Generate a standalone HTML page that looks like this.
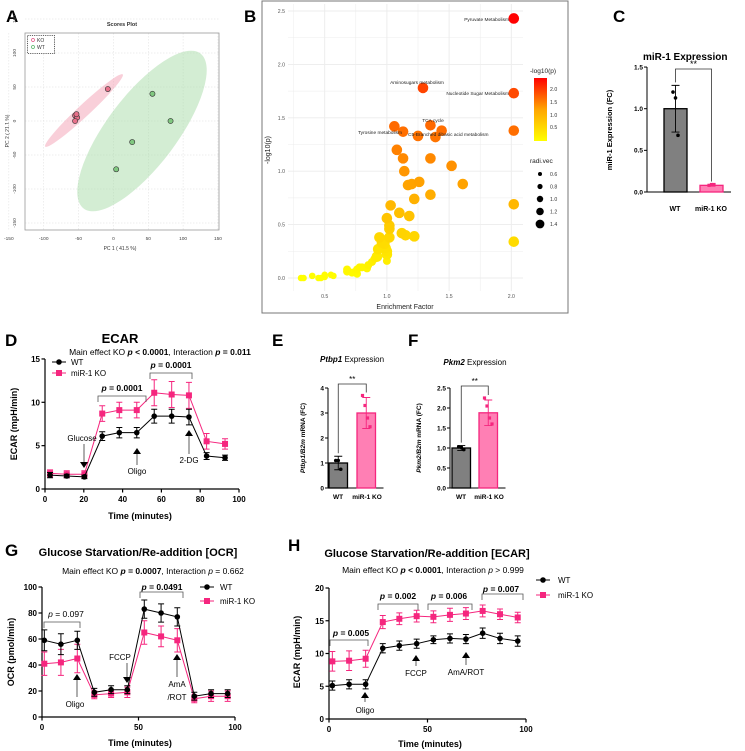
<!DOCTYPE html>
<html><head><meta charset="utf-8"><style>
body{margin:0;background:#fff}
svg{display:block;font-family:"Liberation Sans",sans-serif}
.b{font-weight:bold}
</style></head><body>
<svg id="fig" width="745" height="751" viewBox="0 0 745 751" xmlns="http://www.w3.org/2000/svg">
<rect x="0" y="0" width="745" height="751" fill="#fff"/>
<text x="6" y="22" font-size="17" class="b">A</text>
<text x="244" y="22" font-size="17" class="b">B</text>
<text x="613" y="22" font-size="17" class="b">C</text>
<text x="5" y="346" font-size="17" class="b">D</text>
<text x="272" y="346" font-size="17" class="b">E</text>
<text x="408" y="346" font-size="17" class="b">F</text>
<text x="5" y="556" font-size="17" class="b">G</text>
<text x="288" y="551" font-size="17" class="b">H</text>

<text x="122" y="26" font-size="5.5" class="b" text-anchor="middle" fill="#333">Scores Plot</text>
<text x="120" y="250" font-size="5" text-anchor="middle" fill="#333">PC 1 ( 41.5 %)</text>
<text transform="translate(9,131) rotate(-90)" font-size="5" text-anchor="middle" fill="#333">PC 2 ( 21.1 %)</text>
<g id="pA"></g>
<rect x="27.5" y="35.5" width="27" height="18" fill="#fff" stroke="#333" stroke-width="0.8" stroke-dasharray="1.2,1"/>
<circle cx="33" cy="40" r="1.5" fill="none" stroke="#e05080" stroke-width="0.7"/>
<text x="37" y="41.8" font-size="5" fill="#333">KO</text>
<circle cx="33" cy="47" r="1.5" fill="none" stroke="#50b060" stroke-width="0.7"/>
<text x="37" y="48.8" font-size="5" fill="#333">WT</text>

<rect x="262" y="1" width="306" height="312" fill="#fff" stroke="#777" stroke-width="1"/>
<g id="pB"></g>
<text x="405" y="309" font-size="7" text-anchor="middle" fill="#222">Enrichment Factor</text>
<text transform="translate(270,150) rotate(-90)" font-size="7" text-anchor="middle" fill="#222">-log10(p)</text>
<text x="530" y="73" font-size="6.5" fill="#222">-log10(p)</text>
<defs><linearGradient id="cg" x1="0" y1="1" x2="0" y2="0"><stop offset="0" stop-color="#ffff00"/><stop offset="0.5" stop-color="#ffa500"/><stop offset="1" stop-color="#ff0000"/></linearGradient></defs>
<rect x="534" y="78" width="13" height="63" fill="url(#cg)"/>
<text x="550" y="91" font-size="5.2" fill="#333">2.0</text>
<text x="550" y="104" font-size="5.2" fill="#333">1.5</text>
<text x="550" y="117" font-size="5.2" fill="#333">1.0</text>
<text x="550" y="129" font-size="5.2" fill="#333">0.5</text>
<text x="530" y="163" font-size="6.5" fill="#222">radi.vec</text>
<circle cx="540" cy="174" r="2" fill="#000"/>
<circle cx="540" cy="186.5" r="2.6" fill="#000"/>
<circle cx="540" cy="199" r="3.2" fill="#000"/>
<circle cx="540" cy="211.5" r="3.8" fill="#000"/>
<circle cx="540" cy="224" r="4.4" fill="#000"/>
<text x="550" y="176" font-size="5.2" fill="#333">0.6</text>
<text x="550" y="188.5" font-size="5.2" fill="#333">0.8</text>
<text x="550" y="201" font-size="5.2" fill="#333">1.0</text>
<text x="550" y="213.5" font-size="5.2" fill="#333">1.2</text>
<text x="550" y="226" font-size="5.2" fill="#333">1.4</text>
<g font-size="4.8" fill="#222">
<text x="509" y="21" text-anchor="end">Pyruvate Metabolism</text>
<text x="417" y="84" text-anchor="middle">Aminosugars metabolism</text>
<text x="509" y="95" text-anchor="end">Nucleotide Sugar Metabolism</text>
<text x="433" y="122" text-anchor="middle">TCA cycle</text>
<text x="402" y="134" text-anchor="end">Tyrosine metabolism</text>
<text x="408" y="136">C5-Branched dibasic acid metabolism</text>
</g>

<text x="643" y="60" font-size="10" class="b">miR-1 Expression</text>
<text transform="translate(612,130) rotate(-90)" font-size="7.5" class="b" text-anchor="middle">miR-1 Expression (FC)</text>
<text x="675" y="211" font-size="7" class="b" text-anchor="middle">WT</text>
<text x="711" y="211" font-size="7" class="b" text-anchor="middle">miR-1 KO</text>
<g id="pC"></g>

<text x="120" y="343" font-size="13" class="b" text-anchor="middle">ECAR</text>
<text x="160" y="355" font-size="8.5" text-anchor="middle">Main effect KO <tspan font-weight="bold" font-style="italic">p</tspan><tspan font-weight="bold"> &lt; 0.0001</tspan>, Interaction <tspan font-weight="bold" font-style="italic">p</tspan><tspan font-weight="bold"> = 0.011</tspan></text>
<text transform="translate(17,424) rotate(-90)" font-size="9" class="b" text-anchor="middle">ECAR (mpH/min)</text>
<text x="140" y="519" font-size="9" class="b" text-anchor="middle">Time (minutes)</text>
<g id="pD"></g>

<text x="352" y="362" font-size="8" text-anchor="middle"><tspan font-style="italic" font-weight="bold">Ptbp1</tspan> Expression</text>
<text transform="translate(305,438) rotate(-90)" font-size="6.5" font-style="italic" class="b" text-anchor="middle">Ptbp1/B2m <tspan font-style="normal">mRNA (FC)</tspan></text>
<text x="338" y="499" font-size="6.5" class="b" text-anchor="middle">WT</text>
<text x="367" y="499" font-size="6.5" class="b" text-anchor="middle">miR-1 KO</text>
<g id="pE"></g>
<text x="475" y="365" font-size="8" text-anchor="middle"><tspan font-style="italic" font-weight="bold">Pkm2</tspan> Expression</text>
<text transform="translate(421,438) rotate(-90)" font-size="6.5" font-style="italic" class="b" text-anchor="middle">Pkm2/B2m <tspan font-style="normal">mRNA (FC)</tspan></text>
<text x="461" y="499" font-size="6.5" class="b" text-anchor="middle">WT</text>
<text x="489" y="499" font-size="6.5" class="b" text-anchor="middle">miR-1 KO</text>
<g id="pF"></g>

<text x="138" y="556" font-size="11" class="b" text-anchor="middle">Glucose Starvation/Re-addition [OCR]</text>
<text x="153" y="574" font-size="8.5" text-anchor="middle">Main effect KO <tspan font-weight="bold" font-style="italic">p</tspan><tspan font-weight="bold"> = 0.0007</tspan>, Interaction <tspan font-style="italic">p</tspan> = 0.662</text>
<text transform="translate(14,652) rotate(-90)" font-size="9" class="b" text-anchor="middle">OCR (pmol/min)</text>
<text x="140" y="746" font-size="9" class="b" text-anchor="middle">Time (minutes)</text>
<g id="pG"></g>

<text x="427" y="557" font-size="11" class="b" text-anchor="middle">Glucose Starvation/Re-addition [ECAR]</text>
<text x="433" y="573" font-size="8.5" text-anchor="middle">Main effect KO <tspan font-weight="bold" font-style="italic">p</tspan><tspan font-weight="bold"> &lt; 0.0001</tspan>, Interaction <tspan font-style="italic">p</tspan> &gt; 0.999</text>
<text transform="translate(300,652) rotate(-90)" font-size="9" class="b" text-anchor="middle">ECAR (mpH/min)</text>
<text x="430" y="747" font-size="9" class="b" text-anchor="middle">Time (minutes)</text>
<g id="pH"></g>
</svg>
<script>
const pcaKoX=[-8,-55,-52,-55,-53];
const pcaKoY=[47,8,5,0,10];
const pcaWtX=[56,82,27,4];
const pcaWtY=[40,0,-31,-71];
const pcaTicks=[-150,-100,-50,0,50,100,150];
const efX=[2.02,1.29,2.02,1.06,1.13,1.25,1.35,1.44,1.39,2.02,1.08,1.13,1.35,1.52,1.14,1.26,1.17,1.2,1.61,1.35,1.22,2.02,1.03,1.1,1.18,1.0,1.02,1.02,1.12,1.15,1.22,2.02,0.94,1.02,0.96,0.98,0.99,0.93,1.0,1.0,0.92,0.9,0.88,1.0,0.85,0.8,0.78,0.76,0.75,0.72,0.68,0.68,0.76,0.84,0.55,0.57,0.5,0.5,0.45,0.47,0.4,0.31,0.33];
const efY=[2.43,1.78,1.73,1.42,1.37,1.33,1.43,1.38,1.32,1.38,1.2,1.12,1.12,1.05,1.0,0.9,0.87,0.88,0.88,0.78,0.74,0.69,0.68,0.61,0.58,0.56,0.49,0.46,0.42,0.4,0.39,0.34,0.38,0.38,0.33,0.32,0.28,0.27,0.25,0.22,0.2,0.18,0.15,0.16,0.12,0.1,0.1,0.08,0.06,0.05,0.06,0.08,0.04,0.09,0.03,0.02,0.03,0.01,0.0,0.0,0.02,0.0,0.0];
const efXTicks=[0.5,1.0,1.5,2.0];
const efYTicks=[0.0,0.5,1.0,1.5,2.0,2.5];
const mirMeans=[1.0,0.08];
const mirErr=[0.28,0.01];
const mirDotsWT=[1.2,1.13,0.68];
const mirDotsKO=[0.08,0.09,0.09];
const mirTicks=[0.0,0.5,1.0,1.5];
const dTime=[2.6,11.2,20.3,29.5,38.3,47.3,56.3,65.3,74.2,83.3,92.8];
const dWT=[1.6,1.5,1.4,6.1,6.5,6.5,8.4,8.4,8.3,3.8,3.6];
const dWTerr=[0.3,0.2,0.2,0.5,0.6,0.6,0.8,0.8,0.9,0.4,0.3];
const dKO=[1.8,1.7,1.7,8.7,9.1,9.1,11.1,10.9,10.8,5.5,5.2];
const dKOerr=[0.4,0.4,0.4,0.9,0.9,0.9,1.5,1.5,1.5,0.9,0.6];
const dXTicks=[0,20,40,60,80,100];
const dYTicks=[0,5,10,15];
const ptbMeans=[1.0,3.0];
const ptbErr=[0.27,0.62];
const ptbDotsWT=[1.1,1.1,0.75];
const ptbDotsKO=[3.7,3.3,2.8,2.45];
const ptbTicks=[0,1,2,3,4];
const pkmMeans=[1.0,1.88];
const pkmErr=[0.06,0.32];
const pkmDotsWT=[1.03,1.02,0.96];
const pkmDotsKO=[2.25,2.05,1.75,1.6];
const pkmTicks=[0.0,0.5,1.0,1.5,2.0,2.5];
const gTime=[1.2,9.8,18.3,27.1,35.8,44.2,53,61.7,70.1,78.9,87.6,96.2];
const gWT=[59,56,59,19,21,21,83,80,77,16,18,18];
const gWTerr=[8,8,7,3,3,3,7,7,7,3,3,3];
const gKO=[41,42,45,17,18,19,65,62,59,14,16,16];
const gKOerr=[9,10,11,3,3,4,9,8,9,3,4,4];
const gXTicks=[0,50,100];
const gYTicks=[0,20,40,60,80,100];
const hTime=[1.7,10.2,18.6,27.3,35.7,44.5,53,61.4,69.5,78,86.8,95.8];
const hWT=[5.1,5.3,5.3,10.8,11.2,11.5,12.1,12.3,12.2,13.1,12.3,11.9];
const hWTerr=[0.7,0.7,0.7,0.7,0.7,0.7,0.6,0.7,0.7,0.8,0.8,0.8];
const hKO=[8.8,8.9,9.2,14.8,15.3,15.7,15.6,15.9,16.1,16.5,16.0,15.5];
const hKOerr=[1.5,1.5,1.3,1.0,0.9,0.9,0.9,1.0,0.9,0.9,0.8,0.8];
const hXTicks=[0,50,100];
const hYTicks=[0,5,10,15,20];

const NS='http://www.w3.org/2000/svg';
const PINK='#f5267e';
function mk(tag,attrs,parent,txt){const e=document.createElementNS(NS,tag);for(const k in attrs)e.setAttribute(k,attrs[k]);if(txt!==undefined)e.textContent=txt;parent.appendChild(e);return e;}

(function(){
const g=document.getElementById('pA');
const sx=v=>113.4+v*0.697, sy=v=>121-v*0.68;
for(const t of pcaTicks){
  let l=mk('line',{x1:sx(t),x2:sx(t),y1:33,y2:230,stroke:'#ddd','stroke-width':0.5,'stroke-dasharray':'1.5,1.5'},g);
  
  
  let l2=mk('line',{x1:25,x2:219,y1:sy(t),y2:sy(t),stroke:'#ddd','stroke-width':0.5,'stroke-dasharray':'1.5,1.5'},g);
  
  
  let tx=mk('text',{x:sx(t),y:240,'font-size':4.8,'text-anchor':'middle',fill:'#444'},g,String(t));
  
  
  let ty=mk('text',{transform:`translate(16,${sy(t)}) rotate(-90)`,'font-size':4.8,'text-anchor':'middle',fill:'#444'},g,String(t));
  
  
}
let fr=mk('rect',{x:25,y:33,width:194,height:197,fill:'none',stroke:'#999','stroke-width':0.8},g);


let eg=mk('ellipse',{cx:142,cy:131,rx:97,ry:35,fill:'#a8dca8','fill-opacity':0.5,transform:'rotate(-53 142 131)'},g);


let ep=mk('ellipse',{cx:84,cy:110.5,rx:53,ry:6,fill:'#f4a0b4','fill-opacity':0.5,transform:'rotate(-43 84 110.5)'},g);


pcaKoX.forEach((x,i)=>{let c=mk('circle',{cx:sx(x),cy:sy(pcaKoY[i]),r:2.6,fill:'#e8708a',stroke:'#333','stroke-width':0.6},g);
 
 });
pcaWtX.forEach((x,i)=>{let c=mk('circle',{cx:sx(x),cy:sy(pcaWtY[i]),r:2.6,fill:'#80c880',stroke:'#333','stroke-width':0.6},g);
 
 });
})();

(function(){
const g=document.getElementById('pB');
const sx=v=>386.9+(v-1)*124.4, sy=v=>278-v*106.8;
for(let v=0.25;v<=2.1;v+=0.25){let l=mk('line',{x1:sx(v),x2:sx(v),y1:4,y2:291,stroke:'#ececec','stroke-width':Math.abs(v*2-Math.round(v*2))<0.01?0.9:0.5},g);
 
 }
for(let v=-0.0;v<=2.6;v+=0.25){let l=mk('line',{x1:288,x2:523,y1:sy(v),y2:sy(v),stroke:'#ececec','stroke-width':Math.abs(v*2-Math.round(v*2))<0.01?0.9:0.5},g);
 
 }
efXTicks.forEach(t=>{let tx=mk('text',{x:sx(t),y:298,'font-size':5.2,'text-anchor':'middle',fill:'#555'},g,t.toFixed(1));
 
 });
efYTicks.forEach(t=>{let tx=mk('text',{x:285,y:sy(t)+2,'font-size':5.2,'text-anchor':'end',fill:'#555'},g,t.toFixed(1));
 
 });
const order=efY.map((v,i)=>i).sort((a,b)=>efY[a]-efY[b]);
for(const i of order){
 const t=Math.min(1,efY[i]/2.43);
 const hue=60*(1-t);
 const r=efX[i]<0.6?3.3:(efY[i]<0.2?4:5.3);
 let c=mk('circle',{cx:sx(efX[i]),cy:sy(efY[i]),r:r,fill:`hsl(${hue},100%,50%)`},g);
 
 
}
})();

function barChart(gid,axisX,y0,pxPer,ticks,dec,means,errs,dotsWT,dotsKO,bx,bw,brY,star){
 const g=document.getElementById(gid);
 const sy=v=>y0-v*pxPer;
 const top=sy(ticks[ticks.length-1]);
 let ax=mk('line',{x1:axisX,x2:axisX,y1:top,y2:y0,stroke:'#000','stroke-width':1},g);
 
 
 let xl=mk('line',{x1:axisX,x2:bx[1]+bw+8,y1:y0,y2:y0,stroke:'#000','stroke-width':1},g);
 
 
 ticks.forEach(t=>{
  let tl=mk('line',{x1:axisX-3,x2:axisX,y1:sy(t),y2:sy(t),stroke:'#000','stroke-width':1},g);
  
  
  let tx=mk('text',{x:axisX-4,y:sy(t)+2.3,'font-size':6.5,'font-weight':'bold','text-anchor':'end'},g,t.toFixed(dec));
  
  
 });
 const fills=['#808080','#ff7fb4'], strokes=['#000',PINK], dotc=['#000',PINK];
 means.forEach((m,i)=>{
  let b=mk('rect',{x:bx[i],y:sy(m),width:bw,height:y0-sy(m),fill:fills[i],stroke:strokes[i],'stroke-width':1.3},g);
  
  
  const cx=bx[i]+bw/2;
  let e=mk('path',{d:`M${cx},${sy(m-errs[i])}V${sy(m+errs[i])}M${cx-4},${sy(m+errs[i])}H${cx+4}M${cx-4},${sy(m-errs[i])}H${cx+4}`,stroke:strokes[i],'stroke-width':0.9,fill:'none'},g);
  
  
 });
 const dsets=[dotsWT,dotsKO];
 dsets.forEach((ds,i)=>{const cx=bx[i]+bw/2;ds.forEach((v,j)=>{
  const off=(j-(ds.length-1)/2)*2.5;
  let d;
  if(i===0){d=mk('circle',{cx:cx+off,cy:sy(v),r:1.8,fill:dotc[i]},g);}
  else{d=mk('rect',{x:cx+off-1.6,y:sy(v)-1.6,width:3.2,height:3.2,fill:dotc[i]},g);}
  
  });});
 const c0=bx[0]+bw/2,c1=bx[1]+bw/2;
 let br=mk('path',{d:`M${c0},${sy(means[0]+errs[0])-3}V${brY}H${c1}V${sy(Math.max(...dotsKO))-3}`,stroke:'#333','stroke-width':0.8,fill:'none'},g);
 
 
 let st=mk('text',{x:(c0+c1)/2,y:brY-2,'font-size':star,'text-anchor':'middle'},g,'**');
 
 
}
barChart('pC',647,192,83.3,mirTicks,1,mirMeans,mirErr,mirDotsWT,mirDotsKO,[664,700],23,69,9);
barChart('pE',328,488,25,ptbTicks,0,ptbMeans,ptbErr,ptbDotsWT,ptbDotsKO,[329,357],18.5,384,8);
barChart('pF',450,488,40,pkmTicks,1,pkmMeans,pkmErr,pkmDotsWT,pkmDotsKO,[452,479],18.5,386,8);

function lineChart(gid,ox,oy,kx,ky,xt,yt,series){
 const g=document.getElementById(gid);
 const sx=v=>ox+v*kx, sy=v=>oy-v*ky;
 const top=sy(yt[yt.length-1]), right=sx(xt[xt.length-1]);
 let ya=mk('line',{x1:ox,x2:ox,y1:top,y2:oy,stroke:'#000','stroke-width':1.2},g);
 
 
 let xa=mk('line',{x1:ox,x2:right,y1:oy,y2:oy,stroke:'#000','stroke-width':1.2},g);
 
 
 yt.forEach(t=>{
  let l=mk('line',{x1:ox-3.5,x2:ox,y1:sy(t),y2:sy(t),stroke:'#000','stroke-width':1.2},g);
  
  
  let tx=mk('text',{x:ox-5,y:sy(t)+3,'font-size':8,'font-weight':'bold','text-anchor':'end'},g,String(t));
  
  
 });
 xt.forEach(t=>{
  let l=mk('line',{x1:sx(t),x2:sx(t),y1:oy,y2:oy+3.5,stroke:'#000','stroke-width':1.2},g);
  
  
  let tx=mk('text',{x:sx(t),y:oy+13,'font-size':8,'font-weight':'bold','text-anchor':'middle'},g,String(t));
  
  
 });
 series.forEach(s=>{
  const col=s.color;
  s.x.forEach((x,i)=>{
   const cx=sx(x),e=s.err[i];
   let eb=mk('path',{d:`M${cx},${sy(s.y[i]-e)}V${sy(s.y[i]+e)}M${cx-3},${sy(s.y[i]+e)}H${cx+3}M${cx-3},${sy(s.y[i]-e)}H${cx+3}`,stroke:col,'stroke-width':1,fill:'none'},g);
   
   
  });
  const pts=s.x.map((x,i)=>sx(x)+','+sy(s.y[i])).join(' ');
  let pl=mk('polyline',{points:pts,fill:'none',stroke:col,'stroke-width':1},g);
  
  
  s.x.forEach((x,i)=>{
   let m;
   if(s.shape==='c'){m=mk('circle',{cx:sx(x),cy:sy(s.y[i]),r:2.8,fill:col},g);}
   else{m=mk('rect',{x:sx(x)-3,y:sy(s.y[i])-3,width:6,height:6,fill:col},g);}
   
   
  });
 });
}
lineChart('pD',45,489,1.94,8.67,dXTicks,dYTicks,[
 {name:'ko',x:dTime,y:dKO,err:dKOerr,color:PINK,shape:'s'},
 {name:'wt',x:dTime,y:dWT,err:dWTerr,color:'#000',shape:'c'}]);
lineChart('pG',42,717,1.93,1.3,gXTicks,gYTicks,[
 {name:'ko',x:gTime,y:gKO,err:gKOerr,color:PINK,shape:'s'},
 {name:'wt',x:gTime,y:gWT,err:gWTerr,color:'#000',shape:'c'}]);
lineChart('pH',329,719,1.97,6.55,hXTicks,hYTicks,[
 {name:'ko',x:hTime,y:hKO,err:hKOerr,color:PINK,shape:'s'},
 {name:'wt',x:hTime,y:hWT,err:hWTerr,color:'#000',shape:'c'}]);
</script>
<svg width="745" height="751" style="position:absolute;left:0;top:0" font-family="Liberation Sans, sans-serif">
<line x1="52" y1="362" x2="66" y2="362" stroke="#000"/><circle cx="59" cy="362" r="2.8"/>
<text x="71" y="365" font-size="8">WT</text>
<line x1="52" y1="373" x2="66" y2="373" stroke="#f5267e"/><rect x="56" y="370" width="6" height="6" fill="#f5267e"/>
<text x="71" y="376" font-size="8">miR-1 KO</text>
<path d="M98,402V396H146V402" fill="none" stroke="#555" stroke-width="0.8"/>
<text x="122" y="391" font-size="8.5" font-weight="bold" text-anchor="middle"><tspan font-style="italic">p</tspan> = 0.0001</text>
<path d="M150,379V373H192V379" fill="none" stroke="#555" stroke-width="0.8"/>
<text x="171" y="368" font-size="8.5" font-weight="bold" text-anchor="middle"><tspan font-style="italic">p</tspan> = 0.0001</text>
<text x="82" y="441" font-size="8" text-anchor="middle">Glucose</text>
<line x1="84" y1="444" x2="84" y2="462" stroke="#777" stroke-width="1.2"/><path d="M80,462H88L84,468Z"/>
<path d="M133,454H141L137,448Z"/><line x1="137" y1="454" x2="137" y2="465" stroke="#777" stroke-width="1.2"/>
<text x="137" y="474" font-size="8" text-anchor="middle">Oligo</text>
<path d="M185,436H193L189,430Z"/><line x1="189" y1="436" x2="189" y2="454" stroke="#777" stroke-width="1.2"/>
<text x="189" y="463" font-size="8" text-anchor="middle">2-DG</text>
<line x1="200" y1="587" x2="214" y2="587" stroke="#000"/><circle cx="207" cy="587" r="2.8"/>
<text x="220" y="590" font-size="8">WT</text>
<line x1="200" y1="601" x2="214" y2="601" stroke="#f5267e"/><rect x="204" y="598" width="6" height="6" fill="#f5267e"/>
<text x="220" y="604" font-size="8">miR-1 KO</text>
<path d="M44,628V622H80V628" fill="none" stroke="#555" stroke-width="0.8"/>
<text x="66" y="617" font-size="8.5" text-anchor="middle"><tspan font-style="italic">p</tspan> = 0.097</text>
<path d="M140,598V592H183V598" fill="none" stroke="#555" stroke-width="0.8"/>
<text x="162" y="590" font-size="8.5" font-weight="bold" text-anchor="middle"><tspan font-style="italic">p</tspan> = 0.0491</text>
<text x="120" y="660" font-size="8" text-anchor="middle">FCCP</text>
<line x1="127" y1="663" x2="127" y2="677" stroke="#777" stroke-width="1.2"/><path d="M123,677H131L127,683Z"/>
<path d="M73,680H81L77,674Z"/><line x1="77" y1="680" x2="77" y2="697" stroke="#777" stroke-width="1.2"/>
<text x="75" y="707" font-size="8" text-anchor="middle">Oligo</text>
<path d="M173,660H181L177,654Z"/><line x1="177" y1="660" x2="177" y2="677" stroke="#777" stroke-width="1.2"/>
<text x="177" y="687" font-size="8" text-anchor="middle">AmA</text>
<text x="177" y="700" font-size="8" text-anchor="middle">/ROT</text>
<line x1="536" y1="580" x2="550" y2="580" stroke="#000"/><circle cx="543" cy="580" r="2.8"/>
<text x="558" y="583" font-size="8">WT</text>
<line x1="536" y1="595" x2="550" y2="595" stroke="#f5267e"/><rect x="540" y="592" width="6" height="6" fill="#f5267e"/>
<text x="558" y="598" font-size="8">miR-1 KO</text>
<path d="M330,646V640H368V646" fill="none" stroke="#555" stroke-width="0.8"/>
<text x="351" y="636" font-size="8.5" font-weight="bold" text-anchor="middle"><tspan font-style="italic">p</tspan> = 0.005</text>
<path d="M378,610V604H418V610" fill="none" stroke="#555" stroke-width="0.8"/>
<text x="398" y="599" font-size="8.5" font-weight="bold" text-anchor="middle"><tspan font-style="italic">p</tspan> = 0.002</text>
<path d="M428,610V604H472V610" fill="none" stroke="#555" stroke-width="0.8"/>
<text x="449" y="599" font-size="8.5" font-weight="bold" text-anchor="middle"><tspan font-style="italic">p</tspan> = 0.006</text>
<path d="M482,600V594H523V600" fill="none" stroke="#555" stroke-width="0.8"/>
<text x="501" y="592" font-size="8.5" font-weight="bold" text-anchor="middle"><tspan font-style="italic">p</tspan> = 0.007</text>
<path d="M361,698H369L365,692Z"/><line x1="365" y1="698" x2="365" y2="702" stroke="#777" stroke-width="1.2"/>
<text x="365" y="713" font-size="8" text-anchor="middle">Oligo</text>
<path d="M412,661H420L416,655Z"/><line x1="416" y1="661" x2="416" y2="666" stroke="#777" stroke-width="1.2"/>
<text x="416" y="676" font-size="8" text-anchor="middle">FCCP</text>
<path d="M462,658H470L466,652Z"/><line x1="466" y1="658" x2="466" y2="665" stroke="#777" stroke-width="1.2"/>
<text x="466" y="675" font-size="8" text-anchor="middle">AmA/ROT</text>
</svg>
</body></html>
